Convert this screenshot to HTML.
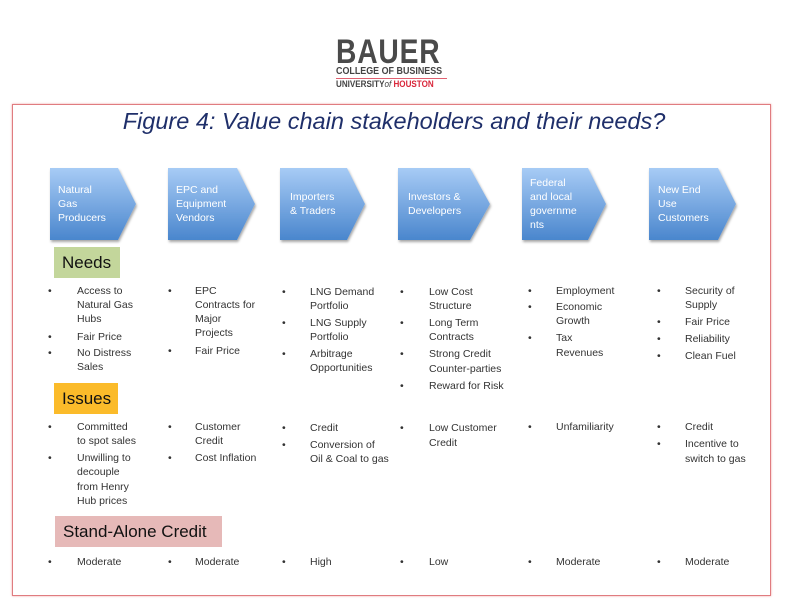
<!DOCTYPE html>
<html><head><meta charset="utf-8"><style>
body{margin:0;width:788px;height:610px;background:#fff;position:relative;overflow:hidden;font-family:"Liberation Sans",sans-serif}
.a{position:absolute;white-space:nowrap;font-size:10.5px;line-height:14px;color:#333}
.w{color:#fff;font-size:10.5px}
.lab{position:absolute;font-size:17px;color:#111;line-height:31px;padding-left:8px;box-sizing:border-box}
</style></head><body>
<div class="a" style="left:336px;top:35px;font-size:34px;line-height:34px;font-weight:bold;color:#4a4a4a;letter-spacing:1px;transform:scaleX(0.83);transform-origin:left">BAUER</div>
<div class="a" style="left:336px;top:66px;font-size:10.5px;line-height:11px;color:#444;font-weight:bold;transform:scaleX(0.85);transform-origin:left">COLLEGE OF BUSINESS</div>
<div style="position:absolute;left:336px;top:78px;width:111px;height:1px;background:#e06070"></div>
<div class="a" style="left:336px;top:79px;font-size:9.5px;line-height:11px;color:#444;font-weight:bold;transform:scaleX(0.85);transform-origin:left">UNIVERSITY<i style="font-weight:normal">of</i> <span style="color:#d9263a">HOUSTON</span></div>
<div style="position:absolute;left:12px;top:104px;width:757px;height:490px;border:1px solid #e07c80;box-shadow:0 0 2px #f0a0a0"></div>
<div class="a" style="left:0;width:788px;text-align:center;top:107px;font-size:23.5px;line-height:28px;color:#1f2f6a;font-style:italic">Figure 4: Value chain stakeholders and their needs?</div>
<svg width="788" height="610" style="position:absolute;left:0;top:0">
<defs><linearGradient id="g" x1="0" y1="0" x2="0" y2="1"><stop offset="0" stop-color="#a7cbf5"/><stop offset="1" stop-color="#4a86cd"/></linearGradient>
<filter id="s"><feDropShadow dx="1" dy="2" stdDeviation="1.2" flood-opacity="0.35"/></filter></defs>
<g fill="url(#g)" filter="url(#s)">
<polygon points="50,168 118,168 136,204 118,240 50,240"/>
<polygon points="168,168 237,168 255,204 237,240 168,240"/>
<polygon points="280,168 347,168 365,204 347,240 280,240"/>
<polygon points="398,168 470,168 490,204 470,240 398,240"/>
<polygon points="522,168 588,168 606,204 588,240 522,240"/>
<polygon points="649,168 718,168 736,204 718,240 649,240"/>
</g></svg>
<div class="a w" style="left:58px;top:183px">Natural<br>Gas<br>Producers</div>
<div class="a w" style="left:176px;top:183px">EPC and<br>Equipment<br>Vendors</div>
<div class="a w" style="left:290px;top:190px">Importers<br>&amp; Traders</div>
<div class="a w" style="left:408px;top:190px">Investors &amp;<br>Developers</div>
<div class="a w" style="left:530px;top:176px">Federal<br>and local<br>governme<br>nts</div>
<div class="a w" style="left:658px;top:183px">New End<br>Use<br>Customers</div>
<div class="lab" style="left:54px;top:247px;width:66px;background:#c3d69b">Needs</div>
<div class="lab" style="left:54px;top:383px;width:64px;background:#fbbb2a">Issues</div>
<div class="lab" style="left:55px;top:516px;width:167px;background:#e6b9b8">Stand-Alone Credit</div>
<div id="c"></div>
<script>
var B=[48,168,282,400,528,657],T=[77,195,310,429,556,685];
var D=[
[0,[[291,"Access to"],[305,"Natural Gas"],[319,"Hubs"]],[[337,"Fair Price"]],[[353,"No Distress"],[367,"Sales"]]],
[1,[[291,"EPC"],[305,"Contracts for"],[319,"Major"],[333,"Projects"]],[[351,"Fair Price"]]],
[2,[[292,"LNG Demand"],[306,"Portfolio"]],[[323,"LNG Supply"],[337,"Portfolio"]],[[354,"Arbitrage"],[368,"Opportunities"]]],
[3,[[292,"Low Cost"],[306,"Structure"]],[[323,"Long Term"],[337,"Contracts"]],[[354,"Strong Credit"],[369,"Counter-parties"]],[[386,"Reward for Risk"]]],
[4,[[291,"Employment"]],[[307,"Economic"],[321,"Growth"]],[[338,"Tax"],[353,"Revenues"]]],
[5,[[291,"Security of"],[305,"Supply"]],[[322,"Fair Price"]],[[339,"Reliability"]],[[356,"Clean Fuel"]]],
[0,[[427,"Committed"],[441,"to spot sales"]],[[458,"Unwilling to"],[472,"decouple"],[487,"from Henry"],[501,"Hub prices"]]],
[1,[[427,"Customer"],[441,"Credit"]],[[458,"Cost Inflation"]]],
[2,[[428,"Credit"]],[[445,"Conversion of"],[459,"Oil & Coal to gas"]]],
[3,[[428,"Low Customer"],[443,"Credit"]]],
[4,[[427,"Unfamiliarity"]]],
[5,[[427,"Credit"]],[[444,"Incentive to"],[459,"switch to gas"]]],
[0,[[562,"Moderate"]]],[1,[[562,"Moderate"]]],[2,[[562,"High"]]],[3,[[562,"Low"]]],[4,[[562,"Moderate"]]],[5,[[562,"Moderate"]]]];
var h="";
D.forEach(function(r){var c=r[0];for(var i=1;i<r.length;i++){var it=r[i];
h+='<div class="a" style="left:'+B[c]+'px;top:'+(it[0][0]-7)+'px">•</div>';
it.forEach(function(l){h+='<div class="a" style="left:'+T[c]+'px;top:'+(l[0]-7)+'px">'+l[1].replace("&","&amp;")+'</div>';});}});
document.getElementById("c").innerHTML=h;
</script>
</body></html>
